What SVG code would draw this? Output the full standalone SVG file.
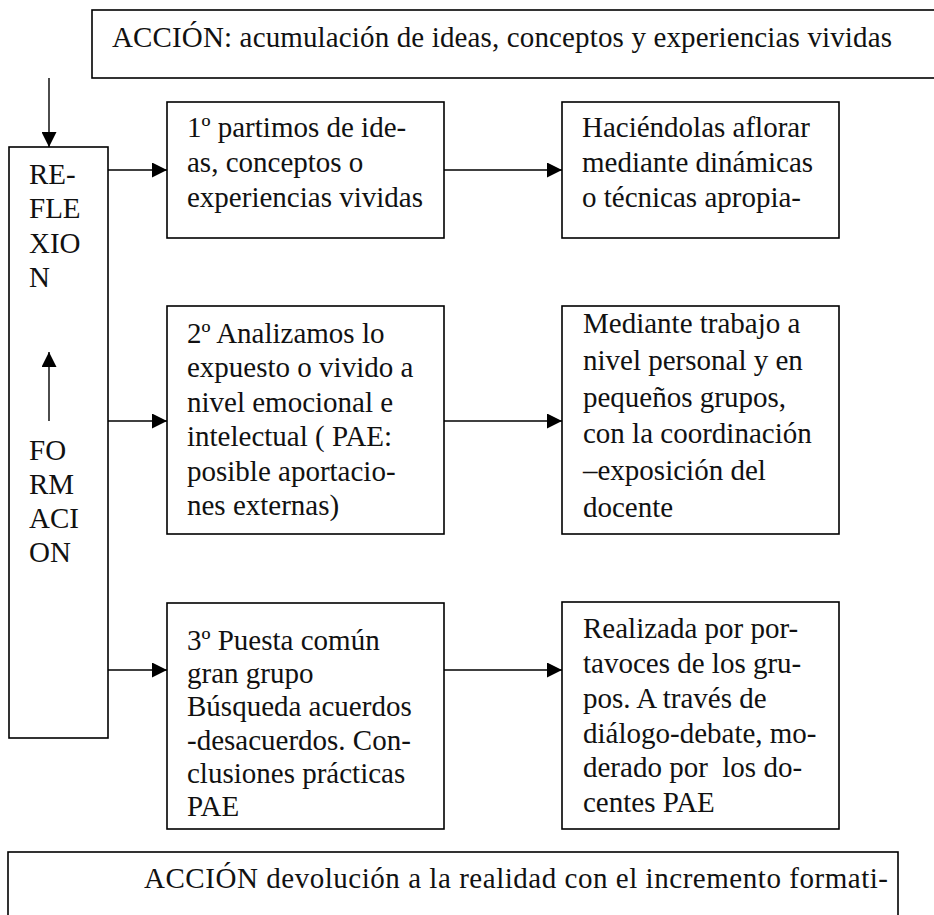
<svg xmlns="http://www.w3.org/2000/svg" width="934" height="915" viewBox="0 0 934 915">
<style>
.box{fill:#fff;stroke:#000;stroke-width:1.6}
.t{font-family:"Liberation Serif","Times New Roman",serif;font-size:29px;fill:#111}
.c{stroke:#000;stroke-width:1.4;fill:none}
</style>
<defs>
<marker id="ah" viewBox="0 0 10 10" refX="10" refY="5" markerWidth="16" markerHeight="15" markerUnits="userSpaceOnUse" orient="auto">
<path d="M0,0 L10,5 L0,10 Z" fill="#000"/>
</marker>
</defs>
<rect width="934" height="915" fill="#fff"/>
<g id="accion-top">
<rect class="box" x="92" y="10" width="860" height="68"/>
<text class="t" x="112" y="47" textLength="780" lengthAdjust="spacing">ACCIÓN: acumulación de ideas, conceptos y experiencias vividas</text>
</g>
<g id="reflexion">
<rect class="box" x="9" y="147" width="99" height="591"/>
<text class="t" x="29" y="184">RE-</text>
<text class="t" x="29" y="218">FLE</text>
<text class="t" x="29" y="253">XIO</text>
<text class="t" x="29" y="287">N</text>
<text class="t" x="29" y="460">FO</text>
<text class="t" x="29" y="494">RM</text>
<text class="t" x="29" y="528">ACI</text>
<text class="t" x="29" y="562">ON</text>
</g>
<g id="paso1">
<rect class="box" x="167" y="102" width="277" height="136"/>
<text class="t" x="187" y="137">1º partimos de ide-</text>
<text class="t" x="187" y="172">as, conceptos o</text>
<text class="t" x="187" y="207">experiencias vividas</text>
</g>
<g id="aflorar">
<rect class="box" x="562" y="102" width="277" height="136"/>
<text class="t" x="582" y="137">Haciéndolas aflorar</text>
<text class="t" x="582" y="172">mediante dinámicas</text>
<text class="t" x="582" y="207">o técnicas apropia-</text>
</g>
<g id="paso2">
<rect class="box" x="167" y="306" width="277" height="228"/>
<text class="t" x="187" y="343">2º Analizamos lo</text>
<text class="t" x="187" y="377">expuesto o vivido a</text>
<text class="t" x="187" y="412">nivel emocional e</text>
<text class="t" x="187" y="446">intelectual ( PAE:</text>
<text class="t" x="187" y="481">posible aportacio-</text>
<text class="t" x="187" y="515">nes externas)</text>
</g>
<g id="trabajo">
<rect class="box" x="562" y="306" width="277" height="228"/>
<text class="t" x="583" y="333">Mediante trabajo a</text>
<text class="t" x="583" y="370">nivel personal y en</text>
<text class="t" x="583" y="407">pequeños grupos,</text>
<text class="t" x="583" y="443">con la coordinación</text>
<text class="t" x="583" y="480">–exposición del</text>
<text class="t" x="583" y="517">docente</text>
</g>
<g id="paso3">
<rect class="box" x="167" y="603" width="277" height="226"/>
<text class="t" x="187" y="650">3º Puesta común</text>
<text class="t" x="187" y="683">gran grupo</text>
<text class="t" x="187" y="716">Búsqueda acuerdos</text>
<text class="t" x="187" y="750">-desacuerdos. Con-</text>
<text class="t" x="187" y="783">clusiones prácticas</text>
<text class="t" x="187" y="816">PAE</text>
</g>
<g id="portavoces">
<rect class="box" x="562" y="602" width="277" height="227"/>
<text class="t" x="583" y="638">Realizada por por-</text>
<text class="t" x="583" y="673">tavoces de los gru-</text>
<text class="t" x="583" y="708">pos. A través de</text>
<text class="t" x="583" y="743">diálogo-debate, mo-</text>
<text class="t" x="583" y="777" xml:space="preserve">derado por  los do-</text>
<text class="t" x="583" y="812">centes PAE</text>
</g>
<g id="accion-bottom">
<rect class="box" x="8" y="852" width="890" height="100"/>
<text class="t" x="144" y="888" textLength="744" lengthAdjust="spacing">ACCIÓN devolución a la realidad con el incremento formati-</text>
</g>
<g id="connectors">
<line class="c" x1="49" y1="78" x2="49" y2="147" marker-end="url(#ah)"/>
<line class="c" x1="49" y1="421" x2="49" y2="352" marker-end="url(#ah)"/>
<line class="c" x1="108" y1="170" x2="167" y2="170" marker-end="url(#ah)"/>
<line class="c" x1="444" y1="170" x2="562" y2="170" marker-end="url(#ah)"/>
<line class="c" x1="108" y1="421" x2="167" y2="421" marker-end="url(#ah)"/>
<line class="c" x1="444" y1="421" x2="562" y2="421" marker-end="url(#ah)"/>
<line class="c" x1="108" y1="670" x2="167" y2="670" marker-end="url(#ah)"/>
<line class="c" x1="444" y1="670" x2="562" y2="670" marker-end="url(#ah)"/>
</g>
</svg>
